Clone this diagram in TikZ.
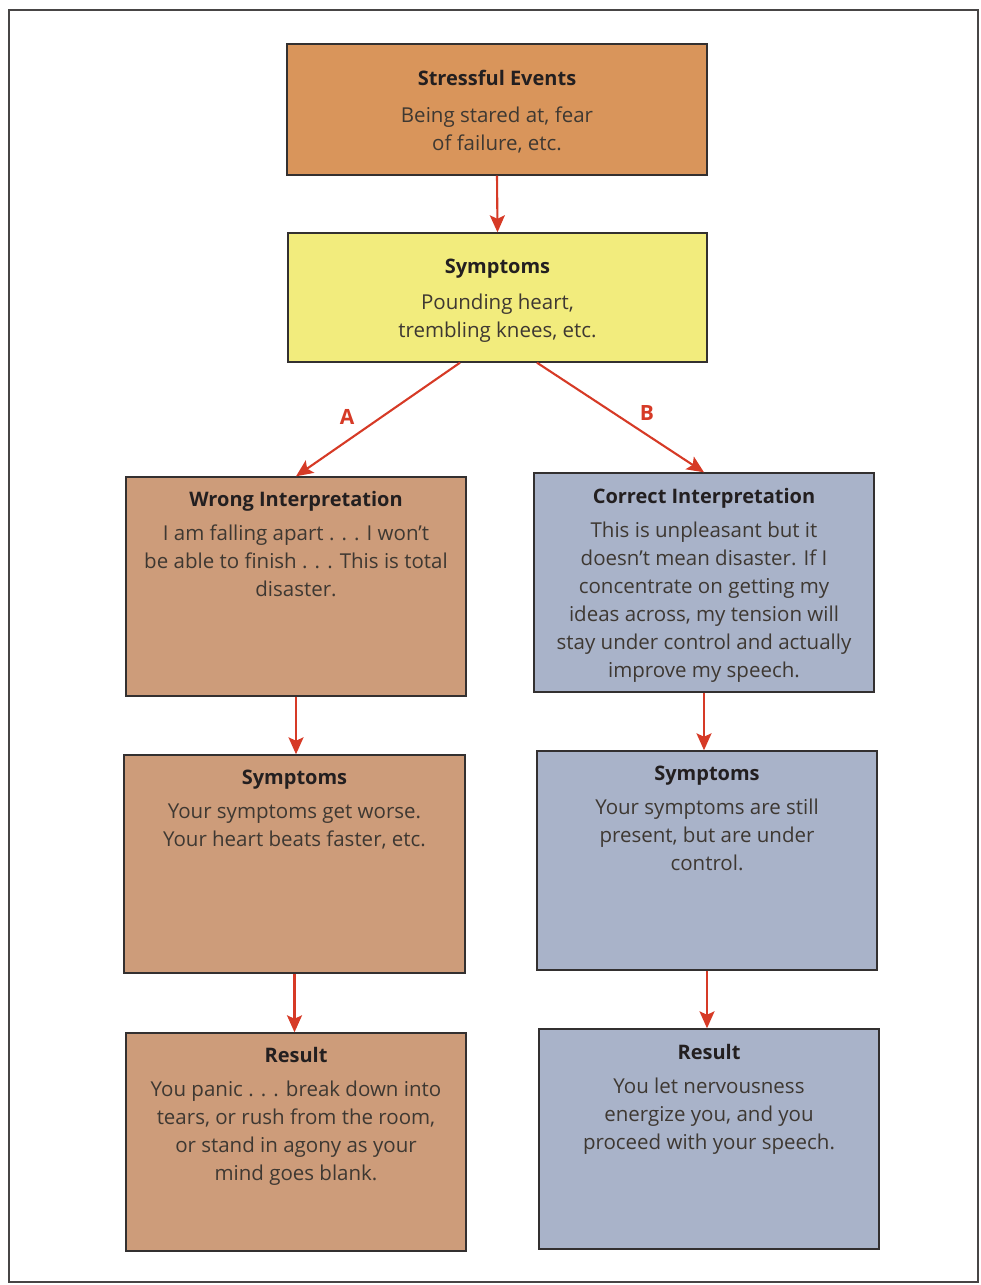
\documentclass[tikz,border=0pt]{standalone}
\usepackage{fontspec}
\setmainfont{Open Sans}
\usetikzlibrary{arrows.meta,calc}
\definecolor{evorange}{HTML}{D9955B}
\definecolor{symyellow}{HTML}{F2EC7D}
\definecolor{wrongtan}{HTML}{CD9C7A}
\definecolor{rightblue}{HTML}{A9B3C9}
\definecolor{arrowred}{HTML}{D63A26}
\definecolor{boxline}{HTML}{333030}
\definecolor{titlecol}{HTML}{231F20}
\definecolor{bodycol}{HTML}{3E3832}
\tikzset{
  panel/.style={draw=boxline, line width=1.4pt, inner sep=0pt},
  panelA/.style={panel, fill=wrongtan, minimum width=340pt, minimum height=219pt},
  panelB/.style={panel, fill=rightblue, minimum width=340pt, minimum height=219pt},
  txt/.style={anchor=north, inner sep=0pt, align=center, text=bodycol,
    font=\fontsize{20.5}{28}\selectfont},
  flow/.style={draw=arrowred, line width=2.1pt,
    -{Stealth[length=17pt,width=15pt,inset=3.5pt]}},
  letter/.style={text=arrowred, font=\bfseries\fontsize{21}{24}\selectfont, inner sep=0pt}
}
\newcommand{\ttl}[2][6pt]{{\color{titlecol}\bfseries\fontsize{20}{28}\selectfont #2}\\[#1]}
\begin{document}
\begin{tikzpicture}[x=1pt,y=-1pt]
\useasboundingbox (0,0) rectangle (981,1285);
\draw[line width=1.4pt, draw=boxline!90] (9,10) rectangle (978,1282);

% boxes
\node[panel, fill=evorange, minimum width=420pt, minimum height=131pt] (ev) at (497,109.5) {};
\node[panel, fill=symyellow, minimum width=419pt, minimum height=129pt] (sy) at (497.5,297.5) {};
\node[panelA] (wr) at (296,586.5) {};
\node[panelB] (co) at (704,582.5) {};
\node[panelA, minimum width=341pt, minimum height=218pt] (s1) at (294.5,864) {};
\node[panelB] (s2) at (707,860.5) {};
\node[panelA, minimum height=218pt] (r1) at (296,1142) {};
\node[panelB, minimum height=220pt] (r2) at (709,1139) {};

% texts
\node[txt] (evt) at ($(ev.north)+(0,27)$) {\ttl[9pt]{Stressful Events}Being stared at, fear\\of failure, etc.};
\node[txt] (syt) at ($(sy.north)+(0,27)$) {\ttl[8pt]{Symptoms}Pounding heart,\\trembling knees, etc.};
\node[txt] (wrt) at ($(wr.north)+(0,15)$) {\ttl{Wrong Interpretation}I am falling apart . . . I won’t\\be able to finish . . . This is total\\disaster.};
\node[txt] (cot) at ($(co.north)+(0,16)$) {\ttl{Correct Interpretation}This is unpleasant but it\\doesn’t mean disaster. If I\\concentrate on getting my\\ideas across, my tension will\\stay under control and actually\\improve my speech.};
\node[txt] (s1t) at ($(s1.north)+(0,16)$) {\ttl{Symptoms}Your symptoms get worse.\\Your heart beats faster, etc.};
\node[txt] (s2t) at ($(s2.north)+(0,16)$) {\ttl{Symptoms}Your symptoms are still\\present, but are under\\control.};
\node[txt] (r1t) at ($(r1.north)+(0,15)$) {\ttl{Result}You panic . . . break down into\\tears, or rush from the room,\\or stand in agony as your\\mind goes blank.};
\node[txt] (r2t) at ($(r2.north)+(0,16)$) {\ttl{Result}You let nervousness\\energize you, and you\\proceed with your speech.};

% connectors
\draw[flow] (ev.south) -- (sy.north);
\draw[flow] ($(sy.south)+(-37.5,0)$) -- (wr.north);
\draw[flow] ($(sy.south)+(39.5,0)$) -- (co.north);
\draw[flow] (wr.south) -- (wr.south |- s1.north);
\draw[flow] (co.south) -- (co.south |- s2.north);
\draw[flow] (s1.south) -- (s1.south |- r1.north);
\draw[flow] (s2.south) -- (s2.south |- r2.north);

\node[letter] (la) at (347,417) {A};
\node[letter] (lb) at (647,413) {B};
\end{tikzpicture}
\end{document}
